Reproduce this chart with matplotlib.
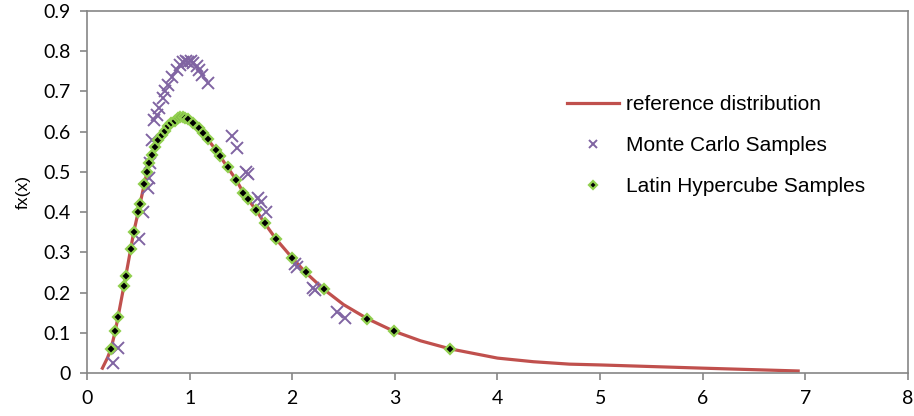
import numpy as np
import matplotlib
matplotlib.use("Agg")
import matplotlib.pyplot as plt

# reference distribution
ref_x = [0.15, 0.20, 0.234, 0.276, 0.302, 0.36, 0.40, 0.455, 0.517, 0.585,
         0.637, 0.695, 0.760, 0.82, 0.88, 0.93, 0.98, 1.036, 1.09, 1.134,
         1.18, 1.257, 1.37, 1.452, 1.524, 1.647, 1.732, 1.845, 2.0, 2.13,
         2.307, 2.5, 2.732, 2.989, 3.25, 3.538, 4.0, 4.35, 4.7, 5.0, 6.0, 6.93]
ref_y = [0.012, 0.038, 0.060, 0.105, 0.139, 0.217, 0.272, 0.350, 0.421, 0.500,
         0.541, 0.579, 0.602, 0.618, 0.626, 0.628, 0.626, 0.618, 0.606, 0.594,
         0.580, 0.554, 0.511, 0.481, 0.448, 0.405, 0.372, 0.332, 0.286, 0.250,
         0.208, 0.170, 0.135, 0.104, 0.080, 0.060, 0.037, 0.028, 0.022, 0.020, 0.012, 0.005]

# Monte Carlo samples
mc_x = [0.253, 0.299, 0.507, 0.543, 0.591, 0.604, 0.614, 0.63, 0.656, 0.679,
        0.705, 0.738, 0.760, 0.792, 0.825, 0.874, 0.906, 0.933, 0.962, 0.987,
        1.01, 1.036, 1.069, 1.092, 1.118, 1.182, 1.41, 1.459, 1.55, 1.572,
        1.67, 1.70, 1.745, 2.027, 2.05, 2.2, 2.222, 2.434, 2.515]
mc_y = [0.024, 0.062, 0.333, 0.399, 0.461, 0.486, 0.521, 0.579, 0.629, 0.641,
        0.658, 0.683, 0.70, 0.716, 0.737, 0.753, 0.766, 0.774, 0.776, 0.774,
        0.776, 0.77, 0.762, 0.753, 0.741, 0.72, 0.588, 0.560, 0.50, 0.495,
        0.434, 0.426, 0.399, 0.270, 0.263, 0.212, 0.206, 0.151, 0.136]

# Latin Hypercube samples
lhs_x = [0.234, 0.276, 0.302, 0.36, 0.377, 0.429, 0.455, 0.494, 0.517, 0.556,
         0.585, 0.604, 0.637, 0.666, 0.695, 0.728, 0.760, 0.789, 0.82, 0.858,
         0.885, 0.909, 0.935, 0.958, 0.987, 1.036, 1.09, 1.134, 1.18, 1.257,
         1.30, 1.37, 1.452, 1.524, 1.572, 1.647, 1.732, 1.845, 1.998, 2.13,
         2.307, 2.732, 2.989, 3.538]
lhs_y = [0.060, 0.105, 0.139, 0.217, 0.240, 0.308, 0.350, 0.400, 0.421, 0.470,
         0.500, 0.521, 0.541, 0.563, 0.579, 0.592, 0.602, 0.614, 0.621, 0.627,
         0.633, 0.637, 0.636, 0.633, 0.631, 0.621, 0.608, 0.596, 0.581, 0.554,
         0.540, 0.511, 0.481, 0.448, 0.432, 0.405, 0.372, 0.332, 0.286, 0.250,
         0.208, 0.135, 0.104, 0.060]

xticks = [0, 1, 2, 3, 4, 5, 6, 7, 8]
yticks = [0, 0.1, 0.2, 0.3, 0.4, 0.5, 0.6, 0.7, 0.8, 0.9]

fig = plt.figure(figsize=(9.14, 4.16), dpi=100)
ax = fig.add_axes([0.0952, 0.1034, 0.8982, 0.8702])

grey = '#868686'
ax.plot(ref_x, ref_y, color='#C0504D', lw=2.3, label='reference distribution', zorder=2)
ax.plot(mc_x, mc_y, ls='none', marker='x', ms=8.5, mew=1.4, color='#8064A2',
        label='Monte Carlo Samples', zorder=3)
ax.plot(lhs_x, lhs_y, ls='none', marker='D', ms=5.5, mfc='black', mec='#92D050',
        mew=1.6, label='Latin Hypercube Samples', zorder=4)

ax.set_xlim(0, 8)
ax.set_ylim(0, 0.9)
ax.set_xticks(xticks)
ax.set_yticks(yticks)
ax.set_xticklabels([str(t) for t in xticks])
ax.set_yticklabels(['0'] + ['%.1f' % t for t in yticks[1:]])
for s in ax.spines.values():
    s.set_color(grey)
    s.set_linewidth(1.2)
ax.tick_params(direction='out', length=5, width=1.2, color=grey,
               labelsize=14, pad=7)
for lab in ax.get_xticklabels() + ax.get_yticklabels():
    lab.set_family('Lato')
ax.set_ylabel('fx(x)', fontsize=12.5, family='Liberation Sans', labelpad=9)

leg = ax.legend(loc='upper left', bbox_to_anchor=(0.585, 0.768), frameon=False,
                prop={'family': 'Liberation Sans', 'size': 15},
                handlelength=2.5, labelspacing=1.06, handletextpad=0.3,
                borderpad=0, borderaxespad=0, markerscale=0.7)

fig.savefig('out.png', dpi=100)
